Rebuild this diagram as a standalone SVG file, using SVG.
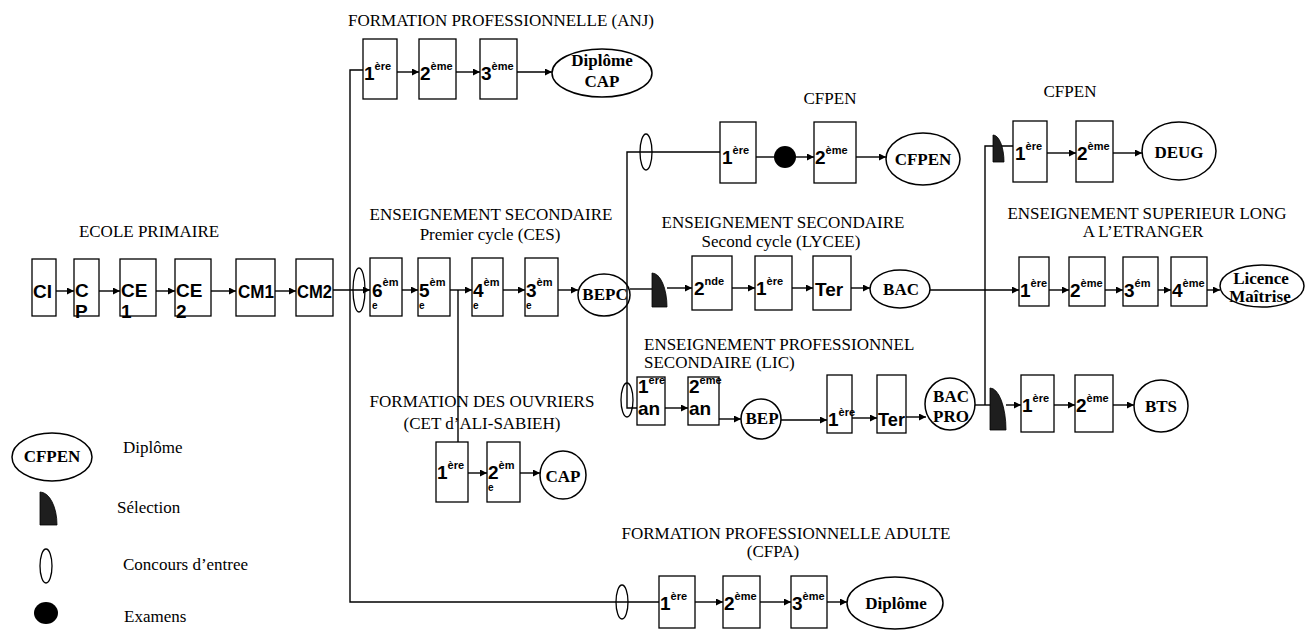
<svg xmlns="http://www.w3.org/2000/svg" width="1305" height="631" viewBox="0 0 1305 631">
<style>
.bx{fill:#fff;stroke:#000;stroke-width:1.3}
.dp{fill:none;stroke:#000;stroke-width:1.5}
.cc{fill:none;stroke:#000;stroke-width:1.3}
.sl{fill:#1e1e1e;stroke:#000;stroke-width:0.8}
.ln{fill:none;stroke:#000;stroke-width:1.4}
.ar{marker-end:url(#ah)}
.t{font-family:"Liberation Serif","Times New Roman",serif;font-size:17px;fill:#000}
.m{text-anchor:middle}
.b{font-family:"Liberation Sans",Arial,sans-serif;font-weight:bold;font-size:19px;fill:#000}
.s{font-size:11px}
.e{font-family:"Liberation Sans",Arial,sans-serif;font-weight:bold;font-size:10px;fill:#000}
.d{font-family:"Liberation Serif","Times New Roman",serif;font-weight:bold;font-size:17px;text-anchor:middle;fill:#000}
</style>
<defs>
<marker id="ah" viewBox="0 0 10 10" refX="10" refY="5" markerWidth="9" markerHeight="7" markerUnits="userSpaceOnUse" orient="auto"><path d="M0,0 L10,5 L0,10 Z" fill="#000"/></marker>
</defs>
<rect width="1305" height="631" fill="#fff"/>

<g id="titles">
<text class="t m" x="149" y="237">ECOLE PRIMAIRE</text>
<text class="t m" x="501" y="26">FORMATION PROFESSIONNELLE (ANJ)</text>
<text class="t m" x="491" y="220">ENSEIGNEMENT SECONDAIRE</text>
<text class="t m" x="490" y="240">Premier cycle (CES)</text>
<text class="t m" x="482" y="407">FORMATION DES OUVRIERS</text>
<text class="t m" x="482" y="429">(CET d’ALI-SABIEH)</text>
<text class="t m" x="830" y="104">CFPEN</text>
<text class="t m" x="783" y="228">ENSEIGNEMENT SECONDAIRE</text>
<text class="t m" x="781" y="247">Second cycle (LYCEE)</text>
<text class="t" x="644" y="350">ENSEIGNEMENT PROFESSIONNEL</text>
<text class="t" x="644" y="368">SECONDAIRE (LIC)</text>
<text class="t m" x="1070" y="97">CFPEN</text>
<text class="t m" x="1147" y="219">ENSEIGNEMENT SUPERIEUR LONG</text>
<text class="t m" x="1143" y="237">A L’ETRANGER</text>
<text class="t m" x="786" y="539">FORMATION PROFESSIONNELLE ADULTE</text>
<text class="t m" x="773" y="557">(CFPA)</text>
</g>

<g id="connectors">
<path class="ln ar" d="M56,291 L74,291"/>
<path class="ln ar" d="M99,291 L120,291"/>
<path class="ln ar" d="M156,291 L175,291"/>
<path class="ln ar" d="M211,291 L236,291"/>
<path class="ln ar" d="M275,291 L296,291"/>
<path class="ln ar" d="M333,290 L370,290"/>
<path class="ln" d="M363,70 L350,70 L350,602 L659,602"/>
<path class="ln ar" d="M397,72 L419,72"/>
<path class="ln ar" d="M456,72 L480,72"/>
<path class="ln ar" d="M517,72 L552,72"/>
<path class="ln ar" d="M402,290 L418,290"/>
<path class="ln ar" d="M450,290 L472,290"/>
<path class="ln ar" d="M503,290 L525,290"/>
<path class="ln ar" d="M558,290 L578,290"/>
<path class="ln" d="M458,290 L458,442"/>
<path class="ln ar" d="M468,473 L487,473"/>
<path class="ln ar" d="M520,473 L540,473"/>
<path class="ln" d="M720,152 L627,152 L627,408 L637,408"/>
<path class="ln" d="M630,289 L652,289"/>
<path class="ln ar" d="M667,288 L692,288"/>
<path class="ln" d="M756,157 L774,157"/>
<path class="ln ar" d="M796,157 L814,157"/>
<path class="ln ar" d="M856,157 L886,157"/>
<path class="ln ar" d="M732,288 L755,288"/>
<path class="ln ar" d="M792,288 L813,288"/>
<path class="ln ar" d="M851,288 L870,288"/>
<path class="ln ar" d="M930,290 L1019,290"/>
<path class="ln" d="M1013,146 L985,146 L985,405"/>
<path class="ln" d="M975,405 L990,405"/>
<path class="ln ar" d="M1006,405 L1021,405"/>
<path class="ln ar" d="M1047,153 L1076,153"/>
<path class="ln ar" d="M1113,153 L1142,153"/>
<path class="ln ar" d="M1049,290 L1069,290"/>
<path class="ln ar" d="M1105,290 L1123,290"/>
<path class="ln ar" d="M1158,290 L1171,290"/>
<path class="ln ar" d="M1207,290 L1220,290"/>
<path class="ln ar" d="M1054,405 L1075,405"/>
<path class="ln ar" d="M1113,405 L1134,405"/>
<path class="ln ar" d="M665,408 L688,408"/>
<path class="ln ar" d="M719,419 L741,419"/>
<path class="ln ar" d="M781,420 L827,420"/>
<path class="ln ar" d="M852,418 L877,418"/>
<path class="ln ar" d="M906,417 L926,417"/>
<path class="ln ar" d="M695,602 L723,602"/>
<path class="ln ar" d="M760,602 L791,602"/>
<path class="ln ar" d="M827,602 L847,602"/>
</g>

<g id="markers">
<ellipse class="cc" cx="359" cy="290" rx="6" ry="22"/>
<ellipse class="cc" cx="646" cy="152" rx="6" ry="18"/>
<ellipse class="cc" cx="627" cy="400" rx="6" ry="17"/>
<ellipse class="cc" cx="622" cy="602" rx="6" ry="17"/>
<circle cx="785" cy="157" r="11" fill="#000"/>
<path class="sl" d="M652,307 L652,273 A15,34 0 0 1 667,307 Z"/>
<path class="sl" d="M990,430 L990,388 A16,42 0 0 1 1006,430 Z"/>
<path class="sl" d="M993,162 L993,135 A11,27 0 0 1 1004,162 Z"/>
</g>

<g id="n-ci"><rect class="bx" x="32" y="259" width="24" height="57"/><text class="b" x="33" y="298">CI</text></g>
<g id="n-cp"><rect class="bx" x="74" y="259" width="25" height="57"/><text class="b" x="75" y="297">C</text><text class="b" x="75" y="318" font-size="16">P</text></g>
<g id="n-ce1"><rect class="bx" x="120" y="259" width="36" height="57"/><text class="b" x="121" y="297">CE</text><text class="b" x="121" y="318" font-size="16">1</text></g>
<g id="n-ce2"><rect class="bx" x="175" y="259" width="36" height="57"/><text class="b" x="176" y="297">CE</text><text class="b" x="176" y="318" font-size="16">2</text></g>
<g id="n-cm1"><rect class="bx" x="236" y="259" width="39" height="57"/><text class="b" x="238" y="298" textLength="36" lengthAdjust="spacingAndGlyphs">CM1</text></g>
<g id="n-cm2"><rect class="bx" x="296" y="259" width="37" height="57"/><text class="b" x="297" y="298" textLength="35" lengthAdjust="spacingAndGlyphs">CM2</text></g>

<g id="n-anj1"><rect class="bx" x="363" y="39" width="34" height="60"/><text class="b" x="364" y="80">1<tspan class="s" dy="-10">ère</tspan></text></g>
<g id="n-anj2"><rect class="bx" x="419" y="39" width="37" height="60"/><text class="b" x="420" y="80">2<tspan class="s" dy="-10">ème</tspan></text></g>
<g id="n-anj3"><rect class="bx" x="480" y="39" width="37" height="60"/><text class="b" x="481" y="80">3<tspan class="s" dy="-10">ème</tspan></text></g>
<g id="n-anjdip"><ellipse class="dp" cx="602" cy="73" rx="50" ry="24"/><text class="d" x="602" y="66" font-size="18">Diplôme</text><text class="d" x="602" y="87" font-size="18">CAP</text></g>

<g id="n-6e"><rect class="bx" x="370" y="258" width="32" height="58"/><text class="b" x="372" y="297">6<tspan class="s" dy="-11">èm</tspan></text><text class="e" x="372" y="309">e</text></g>
<g id="n-5e"><rect class="bx" x="418" y="258" width="32" height="58"/><text class="b" x="419" y="297">5<tspan class="s" dy="-11">èm</tspan></text><text class="e" x="419" y="309">e</text></g>
<g id="n-4e"><rect class="bx" x="472" y="258" width="31" height="58"/><text class="b" x="473" y="297">4<tspan class="s" dy="-11">èm</tspan></text><text class="e" x="473" y="309">e</text></g>
<g id="n-3e"><rect class="bx" x="525" y="258" width="33" height="58"/><text class="b" x="526" y="297">3<tspan class="s" dy="-11">èm</tspan></text><text class="e" x="526" y="309">e</text></g>
<g id="n-bepc"><ellipse class="dp" cx="604" cy="295" rx="26" ry="21"/><text class="d" x="605" y="300" font-size="16">BEPC</text></g>

<g id="n-cet1"><rect class="bx" x="436" y="442" width="32" height="60"/><text class="b" x="437" y="479">1<tspan class="s" dy="-10">ère</tspan></text></g>
<g id="n-cet2"><rect class="bx" x="487" y="442" width="33" height="60"/><text class="b" x="488" y="479">2<tspan class="s" dy="-10">èm</tspan></text><text class="e" x="488" y="491">e</text></g>
<g id="n-cap"><ellipse class="dp" cx="563" cy="475" rx="23" ry="24"/><text class="d" x="563" y="482" font-size="18">CAP</text></g>

<g id="n-cf1"><rect class="bx" x="720" y="122" width="36" height="61"/><text class="b" x="722" y="164">1<tspan class="s" dy="-10">ère</tspan></text></g>
<g id="n-cf2"><rect class="bx" x="814" y="122" width="42" height="61"/><text class="b" x="815" y="164">2<tspan class="s" dy="-10">ème</tspan></text></g>
<g id="n-cfpen"><ellipse class="dp" cx="923" cy="159" rx="37" ry="26"/><text class="d" x="923" y="165">CFPEN</text></g>

<g id="n-2nde"><rect class="bx" x="692" y="256" width="40" height="54"/><text class="b" x="694" y="295">2<tspan class="s" dy="-10">nde</tspan></text></g>
<g id="n-ly1"><rect class="bx" x="755" y="256" width="37" height="54"/><text class="b" x="756" y="295">1<tspan class="s" dy="-10">ère</tspan></text></g>
<g id="n-lyter"><rect class="bx" x="813" y="256" width="38" height="54"/><text class="b" x="815" y="296" font-size="20">Ter</text></g>
<g id="n-bac"><ellipse class="dp" cx="900" cy="289" rx="30" ry="19"/><text class="d" x="901" y="295">BAC</text></g>

<g id="n-lic1"><rect class="bx" x="637" y="377" width="28" height="48"/><text class="b" x="638" y="393">1<tspan class="s" dy="-9">ere</tspan></text><text class="b" x="638" y="415">an</text></g>
<g id="n-lic2"><rect class="bx" x="688" y="377" width="31" height="48"/><text class="b" x="689" y="393">2<tspan class="s" dy="-9">eme</tspan></text><text class="b" x="689" y="415">an</text></g>
<g id="n-bep"><circle class="dp" cx="761" cy="419" r="20"/><text class="d" x="762" y="424" font-size="14">BEP</text></g>
<g id="n-lic3"><rect class="bx" x="827" y="375" width="25" height="58"/><text class="b" x="828" y="426" font-size="18">1<tspan class="s" font-size="10" dy="-10">ère</tspan></text></g>
<g id="n-licter"><rect class="bx" x="877" y="375" width="29" height="58"/><text class="b" x="878" y="426" textLength="27" lengthAdjust="spacingAndGlyphs">Ter</text></g>
<g id="n-bacpro"><ellipse class="dp" cx="950" cy="404" rx="25" ry="26"/><text class="d" x="951" y="402" font-size="16">BAC</text><text class="d" x="951" y="422" font-size="16">PRO</text></g>

<g id="n-de1"><rect class="bx" x="1013" y="121" width="34" height="61"/><text class="b" x="1015" y="160">1<tspan class="s" dy="-10">ère</tspan></text></g>
<g id="n-de2"><rect class="bx" x="1076" y="121" width="37" height="61"/><text class="b" x="1077" y="160">2<tspan class="s" dy="-10">ème</tspan></text></g>
<g id="n-deug"><ellipse class="dp" cx="1179" cy="151" rx="37" ry="29"/><text class="d" x="1179" y="158">DEUG</text></g>

<g id="n-sl1"><rect class="bx" x="1019" y="257" width="30" height="49"/><text class="b" x="1020" y="297">1<tspan class="s" dy="-10">ère</tspan></text></g>
<g id="n-sl2"><rect class="bx" x="1069" y="257" width="36" height="49"/><text class="b" x="1070" y="297">2<tspan class="s" dy="-10">ème</tspan></text></g>
<g id="n-sl3"><rect class="bx" x="1123" y="257" width="35" height="49"/><text class="b" x="1124" y="297">3<tspan class="s" dy="-10">ém</tspan></text></g>
<g id="n-sl4"><rect class="bx" x="1171" y="257" width="36" height="49"/><text class="b" x="1172" y="297">4<tspan class="s" dy="-10">ème</tspan></text></g>
<g id="n-lic"><ellipse class="dp" cx="1262" cy="286" rx="42" ry="21"/><text class="d" x="1261" y="284">Licence</text><text class="d" x="1260" y="302">Maîtrise</text></g>

<g id="n-bt1"><rect class="bx" x="1021" y="375" width="33" height="57"/><text class="b" x="1022" y="412">1<tspan class="s" dy="-10">ère</tspan></text></g>
<g id="n-bt2"><rect class="bx" x="1075" y="375" width="38" height="57"/><text class="b" x="1076" y="412">2<tspan class="s" dy="-10">ème</tspan></text></g>
<g id="n-bts"><ellipse class="dp" cx="1161" cy="406" rx="27" ry="26"/><text class="d" x="1161" y="412">BTS</text></g>

<g id="n-fpa1"><rect class="bx" x="659" y="576" width="36" height="52"/><text class="b" x="660" y="610">1<tspan class="s" dy="-10">ère</tspan></text></g>
<g id="n-fpa2"><rect class="bx" x="723" y="576" width="37" height="52"/><text class="b" x="724" y="610">2<tspan class="s" dy="-10">ème</tspan></text></g>
<g id="n-fpa3"><rect class="bx" x="791" y="576" width="36" height="52"/><text class="b" x="792" y="610">3<tspan class="s" dy="-10">ème</tspan></text></g>
<g id="n-fpadip"><ellipse class="dp" cx="895" cy="603" rx="48" ry="26"/><text class="d" x="896" y="609" font-size="18">Diplôme</text></g>

<g id="legend">
<ellipse class="dp" cx="52" cy="457" rx="40" ry="24"/><text class="d" x="52" y="462">CFPEN</text>
<text class="t" x="123" y="453">Diplôme</text>
<path class="sl" d="M40,525 L40,492 A17,33 0 0 1 57,525 Z"/>
<text class="t" x="117" y="513">Sélection</text>
<ellipse class="cc" cx="46" cy="566" rx="6" ry="17"/>
<text class="t" x="123" y="570">Concours d’entree</text>
<ellipse cx="46" cy="613" rx="12" ry="11" fill="#000"/>
<text class="t" x="124" y="622">Examens</text>
</g>
</svg>
